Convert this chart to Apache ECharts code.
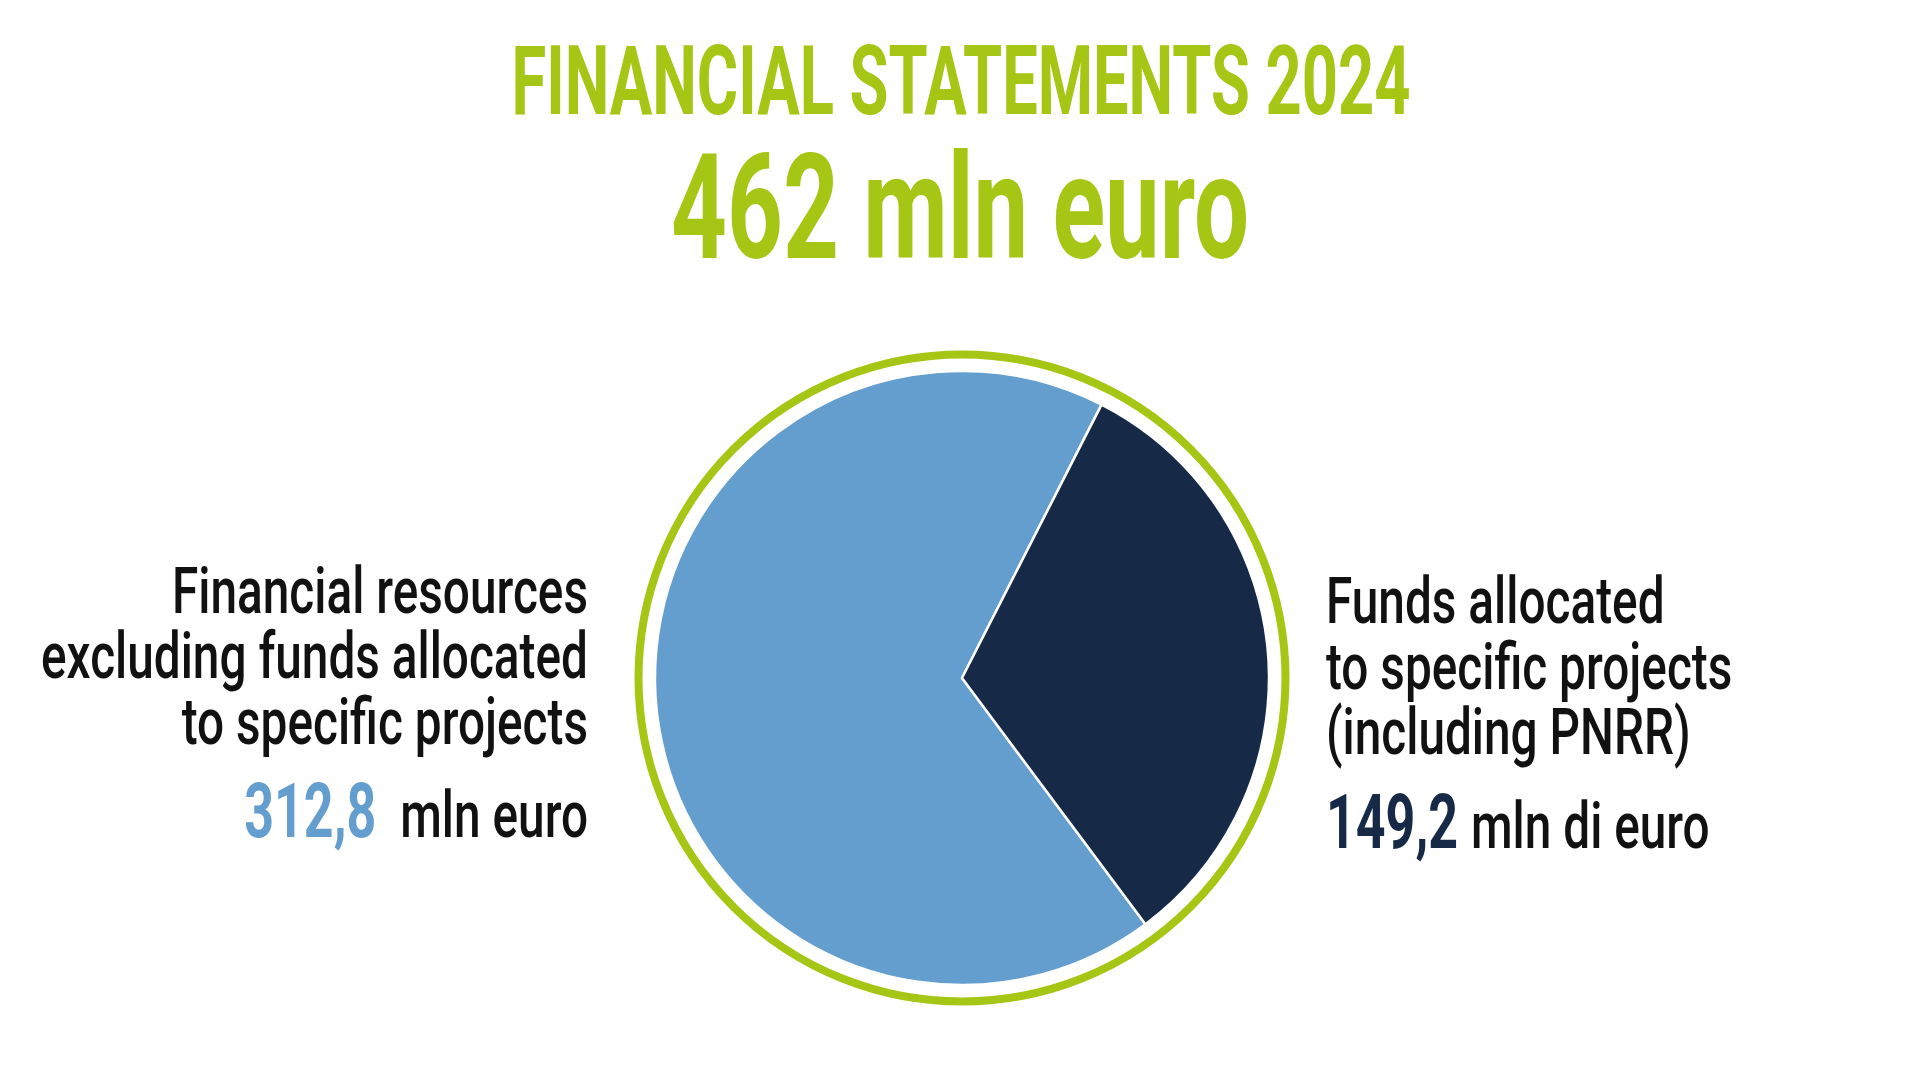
<!DOCTYPE html>
<html>
<head>
<meta charset="utf-8">
<script src="https://cdn.jsdelivr.net/npm/echarts@6/dist/echarts.min.js"></script>
<style>html,body{margin:0;padding:0;background:#fff}#c{width:1920px;height:1080px}</style>
</head>
<body>
<div id="c"></div>
<script>
// ---- data ----
const title = 'FINANCIAL STATEMENTS 2024';
const totalUnit = 'mln euro';
const categories = ['Financial resources excluding funds allocated to specific projects', 'Funds allocated to specific projects (including PNRR)'];
const values = [312.8, 149.2];
const leftLines = ['Financial resources', 'excluding funds allocated', 'to specific projects'];
const rightLines = ['Funds allocated', 'to specific projects', '(including PNRR)'];
const units = ['mln euro', 'mln di euro'];
const colors = ['#639ECF', '#162A48'];

// ---- layout / style ----
const GREEN = '#A5C615';
const CX = 962, CY = 678, R = 307;
const FONT = 'Roboto';
const ctx = document.createElement('canvas').getContext('2d');
function w(text, font) { ctx.font = font; return ctx.measureText(text).width; }
const fmt = v => v.toFixed(1).replace('.', ',');
const total = values.reduce((a, b) => a + b, 0);

const titleSize = 96, totalSize = 146, labSize = 65, numSize = 76;
const titleFont = '700 ' + titleSize + 'px ' + FONT;
const titleScale = 899 / w(title, titleFont);
const totalText = Math.round(total) + ' ' + totalUnit;
const totalFont = '700 ' + totalSize + 'px ' + FONT;
const totalScale = 578 / w(totalText, totalFont);
const labFont = '500 ' + labSize + 'px ' + FONT;
const labScale = 547 / w(leftLines[1], labFont);
const numFont = '700 ' + numSize + 'px ' + FONT;
const numScale = 132 / w(fmt(values[0]), numFont);

// place text by its baseline
function txt(text, x, base, size, font, fill, align, sx) {
  return { type: 'text', x: x, y: base - 0.74 * size, scaleX: sx, silent: true,
    style: { text: text, x: 0, y: 0, font: font, fill: fill, align: align, textAlign: align, verticalAlign: 'top', textVerticalAlign: 'top' } };
}
const g = [];
g.push(txt(title, 961, 113, titleSize, titleFont, GREEN, 'center', titleScale));
g.push(txt(totalText, 960, 257, totalSize, totalFont, GREEN, 'center', totalScale));
const lb = [612, 677, 743];
leftLines.forEach((t, i) => g.push(txt(t, 588, lb[i], labSize, labFont, '#111', 'right', labScale)));
const rb = [622, 688, 753];
rightLines.forEach((t, i) => g.push(txt(t, 1326, rb[i], labSize, labFont, '#111', 'left', labScale)));
// value lines
const mlnW = w(units[0], labFont) * labScale;
g.push(txt(units[0], 588, 836, labSize, labFont, '#111', 'right', labScale));
g.push(txt(fmt(values[0]), 588 - mlnW - 24, 836, numSize, numFont, colors[0], 'right', numScale));
const numW = w(fmt(values[1]), numFont) * numScale;
g.push(txt(fmt(values[1]), 1326, 847, numSize, numFont, colors[1], 'left', numScale));
g.push(txt(units[1], 1326 + numW + 13, 847, labSize, labFont, '#111', 'left', labScale));
// outer ring
g.push({ type: 'circle', silent: true, shape: { cx: CX, cy: CY, r: 323.5 }, style: { fill: 'none', stroke: GREEN, lineWidth: 8 } });

const chart = echarts.init(document.getElementById('c'), null, { renderer: 'canvas' });
chart.setOption({
  animation: false,
  backgroundColor: '#fff',
  graphic: g,
  series: [{
    type: 'pie',
    center: [CX, CY],
    radius: [0, R],
    startAngle: -53.3,
    clockwise: true,
    label: { show: false },
    labelLine: { show: false },
    emphasis: { disabled: true },
    itemStyle: { borderColor: '#fff', borderWidth: 2.5 },
    data: categories.map((c, i) => ({ name: c, value: values[i], itemStyle: { color: colors[i] } }))
  }]
});
</script>
</body>
</html>
